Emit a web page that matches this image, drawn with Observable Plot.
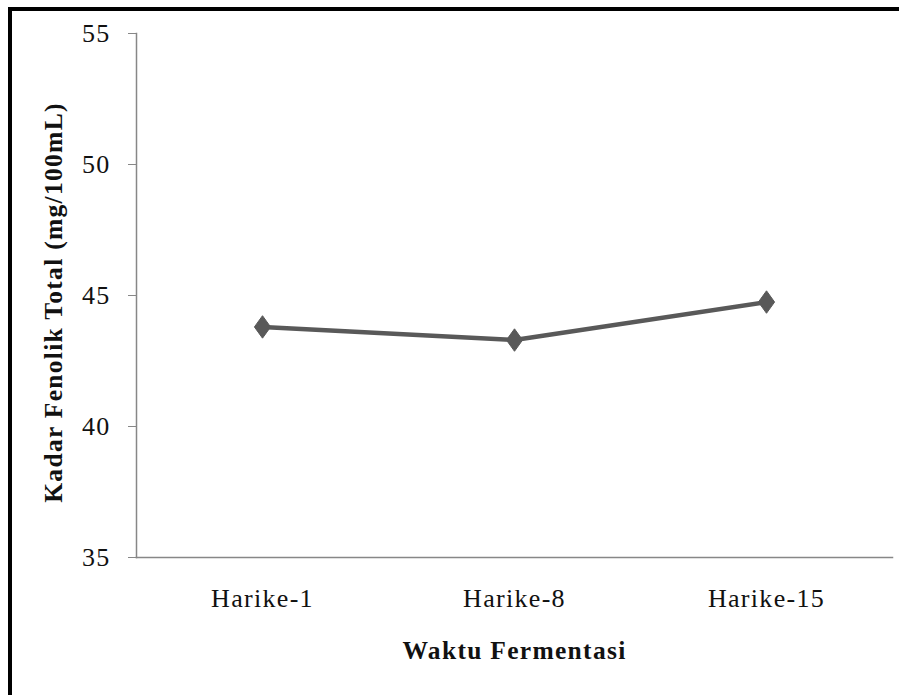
<!DOCTYPE html>
<html>
<head>
<meta charset="utf-8">
<script src="https://cdn.jsdelivr.net/npm/d3@7"></script>
<script src="https://cdn.jsdelivr.net/npm/@observablehq/plot@0.6"></script>
<style>
  html, body { margin: 0; padding: 0; background: #fff; }
  #wrap { position: relative; width: 899px; height: 695px; overflow: hidden; }
  #border { position: absolute; left: 8px; top: 7px; width: 900px; height: 700px;
            border-left: 4px solid #000; border-top: 4px solid #000; box-sizing: border-box; pointer-events: none; }
  svg text { letter-spacing: 1.3px; }
</style>
</head>
<body>
<div id="wrap"><div id="border"></div></div>
<script>
const categories = ["Harike-1", "Harike-8", "Harike-15"];
const values = [43.8, 43.3, 44.75];
const yTicks = [35, 40, 45, 50, 55];
const yLabel = "Kadar Fenolik Total (mg/100mL)";
const xLabel = "Waktu Fermentasi";

const data = categories.map((c, i) => ({ hari: c, nilai: values[i] }));

const diamond = {
  draw(context, size) {
    const h = Math.sqrt(size / 1.44);
    const w = 0.72 * h;
    context.moveTo(0, -h);
    context.lineTo(w, 0);
    context.lineTo(0, h);
    context.lineTo(-w, 0);
    context.closePath();
  }
};

const font = "'Liberation Serif', 'Times New Roman', serif";

const chart = Plot.plot({
  width: 899,
  height: 695,
  marginLeft: 136,
  marginRight: 7,
  marginTop: 33,
  marginBottom: 138,
  style: { fontFamily: font, fontSize: "25px", background: "transparent", color: "#111" },
  x: { type: "point", domain: categories, padding: 0.5, label: null },
  y: { domain: [35, 55], label: null },
  marks: [
    Plot.frame({ anchor: "left", stroke: "#878787", strokeWidth: 1.5 }),
    Plot.frame({ anchor: "bottom", stroke: "#878787", strokeWidth: 1.5 }),
    Plot.axisY({ ticks: yTicks, tickSize: 8, tickPadding: 18, stroke: "#878787", fill: "#111", fontSize: 26, label: null }),
    Plot.axisX({ tickSize: 0, tickPadding: 31, fill: "#111", fontSize: 26, label: null }),
    Plot.line(data, { x: "hari", y: "nilai", stroke: "#595959", strokeWidth: 4.5 }),
    Plot.dot(data, { x: "hari", y: "nilai", symbol: diamond, r: 7.6, fill: "#595959", stroke: "#595959", strokeWidth: 1 }),
    Plot.text([yLabel], { frameAnchor: "left", textAnchor: "middle", rotate: -90, dx: -75, dy: 7, lineAnchor: "bottom",
      fontSize: 25.5, fontWeight: "bold", fill: "#111" }),
    Plot.text([xLabel], { frameAnchor: "bottom", textAnchor: "middle", dy: 101, lineAnchor: "bottom",
      fontSize: 25.5, fontWeight: "bold", fill: "#111" })
  ]
});
chart.style.position = "absolute";
chart.style.left = "0px";
chart.style.top = "0px";
document.getElementById("wrap").insertBefore(chart, document.getElementById("border"));
</script>
</body>
</html>
